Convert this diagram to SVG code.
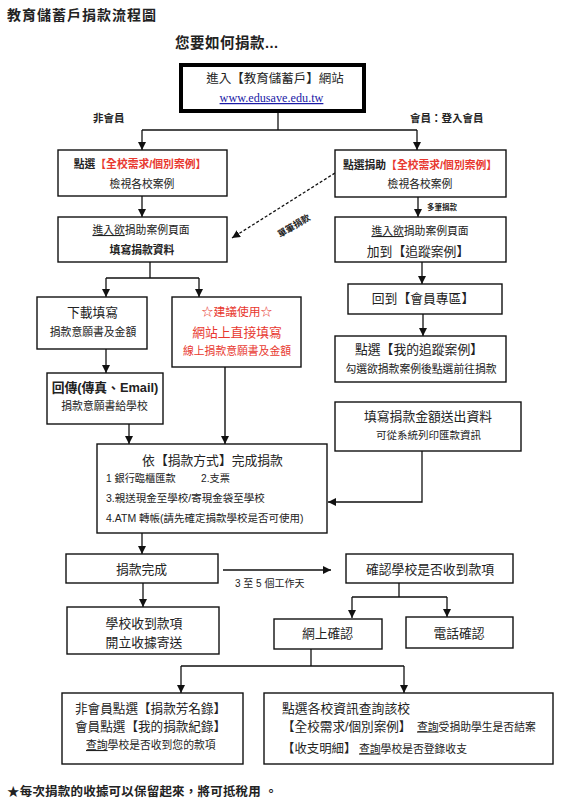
<svg xmlns="http://www.w3.org/2000/svg" width="563" height="802" viewBox="0 0 563 802">
<defs>
<style>
text{font-family:"Liberation Sans","Noto Sans CJK TC",sans-serif;fill:#222;}
.box{fill:#fff;stroke:#111;stroke-width:1.4;}
.c{text-anchor:middle;}
.s11{font-size:10.8px;}
.s13{font-size:12.8px;}
.b{font-weight:bold;}
.red{fill:#e8382f;}
.ln{fill:none;stroke:#111;stroke-width:1.3;}
.u{text-decoration:underline;}
</style>
<marker id="ah" markerUnits="userSpaceOnUse" markerWidth="8" markerHeight="8" refX="8" refY="4" orient="auto">
<path d="M0,0 L8,4 L0,8 z" fill="#111"/>
</marker>
</defs>
<rect width="563" height="802" fill="#fff"/>

<g id="titles">
<text x="7" y="20" style="font-size:14px;font-weight:bold;letter-spacing:1px">教育儲蓄戶捐款流程圖</text>
<text x="175" y="48" style="font-size:14.5px;font-weight:bold;letter-spacing:0.5px">您要如何捐款...</text>
<text x="93" y="122" class="b" style="font-size:10.5px">非會員</text>
<text x="410" y="122" class="b" style="font-size:10.5px">會員：登入會員</text>
<text x="427" y="210" class="b" style="font-size:7.5px">多筆捐款</text>
<text x="294" y="229" class="b c" style="font-size:9px" transform="rotate(-31 294 226)">單筆捐款</text>
<text x="235" y="587" style="font-size:10px">3 至 5 個工作天</text>
<text x="7" y="796" class="b" style="font-size:12.5px;letter-spacing:0.2px">★每次捐款的收據可以保留起來，將可抵稅用 。</text>
</g>

<g id="connectors">
<path class="ln" d="M278,113 V130"/>
<path class="ln" d="M142,130 H417"/>
<path class="ln" d="M142,130 V150" marker-end="url(#ah)"/>
<path class="ln" d="M417,130 V150" marker-end="url(#ah)"/>
<path class="ln" d="M142,196 V217" marker-end="url(#ah)"/>
<path class="ln" d="M418,197 V217" marker-end="url(#ah)"/>
<path class="ln" d="M335,173 L232,238" stroke-dasharray="3,2" marker-end="url(#ah)"/>
<path class="ln" d="M150,262 V278 M106,278 H199"/>
<path class="ln" d="M106,278 V297" marker-end="url(#ah)"/>
<path class="ln" d="M199,278 V297" marker-end="url(#ah)"/>
<path class="ln" d="M422,262 V284" marker-end="url(#ah)"/>
<path class="ln" d="M423,314 V336" marker-end="url(#ah)"/>
<path class="ln" d="M106,349 V373" marker-end="url(#ah)"/>
<path class="ln" d="M129,424 V444" marker-end="url(#ah)"/>
<path class="ln" d="M225,367 V444" style="stroke:#444;stroke-width:1.8" marker-end="url(#ah)"/>
<path class="ln" d="M422,451 V502 H328" marker-end="url(#ah)"/>
<path class="ln" d="M142,533 V554" marker-end="url(#ah)"/>
<path class="ln" d="M143,583 V607" marker-end="url(#ah)"/>
<path class="ln" d="M223,570 H331" marker-end="url(#ah)"/>
<path class="ln" d="M399,583 V597 M352,597 H447"/>
<path class="ln" d="M352,597 V618" marker-end="url(#ah)"/>
<path class="ln" d="M447,597 V617" marker-end="url(#ah)"/>
<path class="ln" d="M311,649 V666 M181,666 H404"/>
<path class="ln" d="M181,666 V693" marker-end="url(#ah)"/>
<path class="ln" d="M404,666 V693" marker-end="url(#ah)"/>
</g>

<g id="n-site">
<rect x="181" y="65" width="183" height="46" fill="#fff" stroke="#000" stroke-width="4"/>
<text x="275" y="83" class="c" style="font-size:12.5px">進入【教育儲蓄戶】網站</text>
<text x="271.5" y="102" class="c" style="font-family:'Liberation Serif',serif;font-size:12.2px;fill:#1a1aa6;text-decoration:underline">www.edusave.edu.tw</text>
</g>

<g id="n-select-left">
<rect class="box" x="58" y="150" width="169" height="46"/>
<text x="140" y="168" class="c s11"><tspan class="b">點選</tspan><tspan class="red b">【全校需求/個別案例】</tspan></text>
<text x="142" y="188" class="c s11">檢視各校案例</text>
</g>

<g id="n-select-right">
<rect class="box" x="335" y="150" width="171" height="47"/>
<text x="420" y="169" class="c s11"><tspan class="b">點選捐助</tspan><tspan class="red b">【全校需求/個別案例】</tspan></text>
<text x="420" y="188" class="c s11">檢視各校案例</text>
</g>

<g id="n-enter-left">
<rect class="box" x="58" y="217" width="169" height="45"/>
<text x="141" y="234" class="c s11"><tspan class="u">進入欲</tspan>捐助案例頁面</text>
<text x="142" y="254" class="c s11 b">填寫捐款資料</text>
</g>

<g id="n-enter-right">
<rect class="box" x="335" y="217" width="171" height="45"/>
<text x="420" y="235" class="c s11"><tspan class="u">進入欲</tspan>捐助案例頁面</text>
<text x="418" y="256" class="c s13">加到【追蹤案例】</text>
</g>

<g id="n-member-zone">
<rect class="box" x="348" y="284" width="154" height="30"/>
<text x="423" y="303" class="c s13">回到【會員專區】</text>
</g>

<g id="n-tracking">
<rect class="box" x="335" y="336" width="171" height="46"/>
<text x="419" y="354" class="c s13">點選【我的追蹤案例】</text>
<text x="421" y="373" class="c s11">勾選欲捐款案例後點選前往捐款</text>
</g>

<g id="n-download">
<rect class="box" x="37" y="297" width="110" height="52"/>
<text x="92.5" y="317" class="c s13">下載填寫</text>
<text x="93" y="336" class="c s11">捐款意願書及金額</text>
</g>

<g id="n-online">
<rect class="box" x="172" y="297" width="129" height="70"/>
<text x="237" y="316" class="c red" style="font-size:11.8px">☆建議使用☆</text>
<text x="237" y="337" class="c s13 red">網站上直接填寫</text>
<text x="237" y="355" class="c s11 red">線上捐款意願書及金額</text>
</g>

<g id="n-return">
<rect class="box" x="47" y="373" width="116" height="51"/>
<text x="105" y="392" class="c s13" style="font-weight:600">回傳(傳真、Email)</text>
<text x="104.5" y="410" class="c s11">捐款意願書給學校</text>
</g>

<g id="n-method">
<rect class="box" x="97" y="444" width="230" height="89"/>
<text x="212.5" y="465" class="c s13">依【捐款方式】完成捐款</text>
<text x="106" y="482" style="font-size:10.2px">1 銀行臨櫃匯款</text>
<text x="201" y="482" style="font-size:10.2px">2.支票</text>
<text x="106" y="502" style="font-size:10.5px">3.親送現金至學校/寄現金袋至學校</text>
<text x="106" y="522" style="font-size:10.5px">4.ATM 轉帳(請先確定捐款學校是否可使用)</text>
</g>

<g id="n-fill-amount">
<rect class="box" x="335" y="402" width="186" height="49"/>
<text x="428" y="421" class="c s13">填寫捐款金額送出資料</text>
<text x="428.5" y="439" class="c" style="font-size:10.5px">可從系統列印匯款資訊</text>
</g>

<g id="n-done">
<rect class="box" x="66" y="554" width="152" height="29"/>
<text x="141.5" y="574" class="c s13">捐款完成</text>
</g>

<g id="n-receipt">
<rect class="box" x="67" y="607" width="152" height="47"/>
<text x="144" y="627.5" class="c s13">學校收到款項</text>
<text x="144" y="646.5" class="c s13">開立收據寄送</text>
</g>

<g id="n-confirm">
<rect class="box" x="346" y="554" width="167" height="29"/>
<text x="430" y="574" class="c s13">確認學校是否收到款項</text>
</g>

<g id="n-web-confirm">
<rect class="box" x="274" y="619" width="108" height="30"/>
<text x="327.5" y="638" class="c s13">網上確認</text>
</g>

<g id="n-phone-confirm">
<rect class="box" x="406" y="617" width="107" height="31"/>
<text x="459" y="637.5" class="c s13">電話確認</text>
</g>

<g id="n-records">
<rect class="box" x="62" y="693" width="181" height="71"/>
<text x="75" y="712.5" style="font-size:12.6px">非會員點選【捐款芳名錄】</text>
<text x="75" y="730.5" style="font-size:12.6px">會員點選【我的捐款紀錄】</text>
<text x="86" y="749" class="s11"><tspan class="u">查詢</tspan>學校是否收到您的款項</text>
</g>

<g id="n-school-info">
<rect class="box" x="264" y="693" width="289" height="71"/>
<text x="282" y="712.5" class="s13">點選各校資訊查詢該校</text>
<text x="282" y="730.5" style="font-size:12.6px">【全校需求/個別案例】</text>
<text x="417" y="730.5" class="s11"><tspan class="u">查詢</tspan>受捐助學生是否結案</text>
<text x="282" y="752.5" style="font-size:12.4px">【收支明細】</text>
<text x="359" y="752.5" class="s11"><tspan class="u">查詢</tspan>學校是否登錄收支</text>
</g>
</svg>
